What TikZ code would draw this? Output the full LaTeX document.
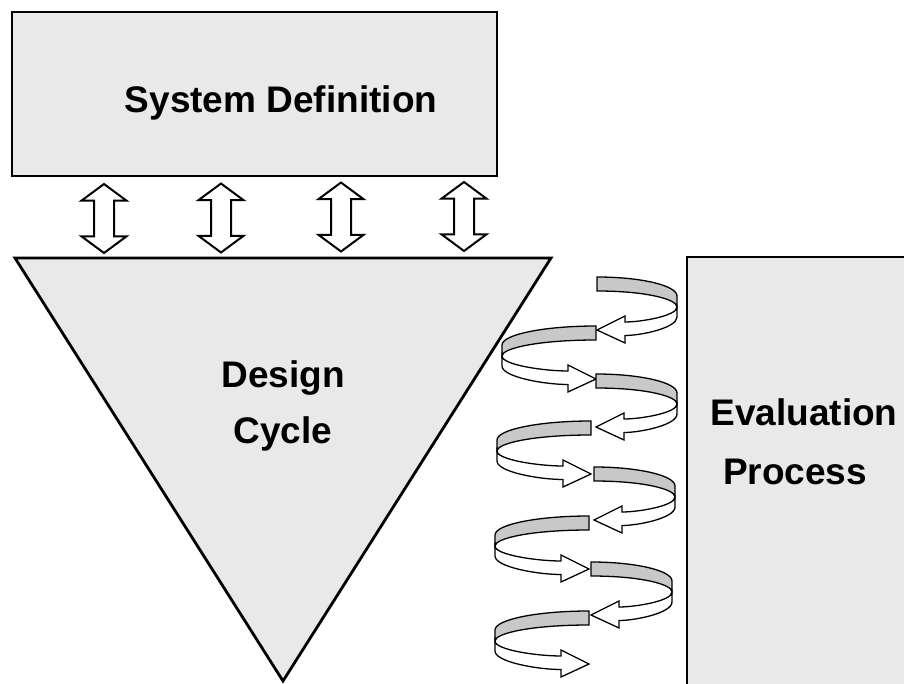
\documentclass[tikz,border=0pt]{standalone}
\usepackage{fontspec}
\setmainfont{Liberation Sans}
\usetikzlibrary{shapes.arrows}

\definecolor{stonegray}{RGB}{233,233,233}
\definecolor{bandgray}{RGB}{200,200,200}

\tikzset{
  stone/.style={draw, line width=2.8pt, fill=stonegray},
  lbl/.style={font=\fontsize{37}{44}\bfseries\selectfont, inner sep=0pt, anchor=base},
  dblarrow/.style={double arrow, draw, fill=white, line width=2pt, rotate=90,
    inner sep=9pt, minimum height=69pt, double arrow head extend=12.5pt,
    double arrow tip angle=107},
  ribbon/.style={draw, line width=1.3pt}
}

% one turn of the spiral: x, y, direction, reach
\newcommand{\helixturn}[4]{%
  \begin{scope}[shift={(#1,#2)}, xscale=#3]
    \draw[ribbon, fill=bandgray] (0,0) .. controls (0.55*#4,0) and (#4,8.5) .. (#4,19)
      -- (#4,30) .. controls (#4,22) and (0.6*#4,14) .. (0,14) -- cycle;
    \draw[ribbon, fill=white] (#4,30) .. controls (#4,39) and (0.55*#4,45) .. (28,45)
      -- (28,39) -- (0,53) -- (28,66) -- (28,58.5)
      .. controls (0.55*#4,58.5) and (#4,51) .. (#4,40) -- cycle;
  \end{scope}}

\begin{document}
\begin{tikzpicture}[x=1pt,y=-1pt]
\useasboundingbox (0,0) rectangle (904,684);
\begin{scope}
\clip (0,0) rectangle (904,684);

% The boxes
\draw[stone] (12,12) rectangle (497,176);
\draw[stone] (15,258) coordinate (dc-tl) -- (551,258) coordinate (dc-tr)
  -- (283,681) coordinate (dc-apex) -- cycle;
\draw[stone] (687,257) rectangle (930,710);

% The links
\node[dblarrow] (link1) at (104,218.5) {};
\node[dblarrow] (link2) at (221,218) {};
\node[dblarrow] (link3) at (341,217) {};
\node[dblarrow] (link4) at (464,216.5) {};

% The spiral
\foreach \x/\y/\d/\w in {597/277/1/80, 596/326/-1/94, 596/374/1/81, 591/421/-1/94,
  594/467/1/81, 589/516/-1/94, 591/562/1/81, 589/611/-1/94}
  \helixturn{\x}{\y}{\d}{\w};

% The labels
\node[lbl] (sysdef) at (281,113) {System Definition};
\node[lbl] (design) at (283,387) {Design};
\node[lbl] (cycle) at (283,443) {Cycle};
\node[lbl] (evaluation) at (804,425) {Evaluation};
\node[lbl] (process) at (795,484) {Process};
\end{scope}
\end{tikzpicture}
\end{document}
